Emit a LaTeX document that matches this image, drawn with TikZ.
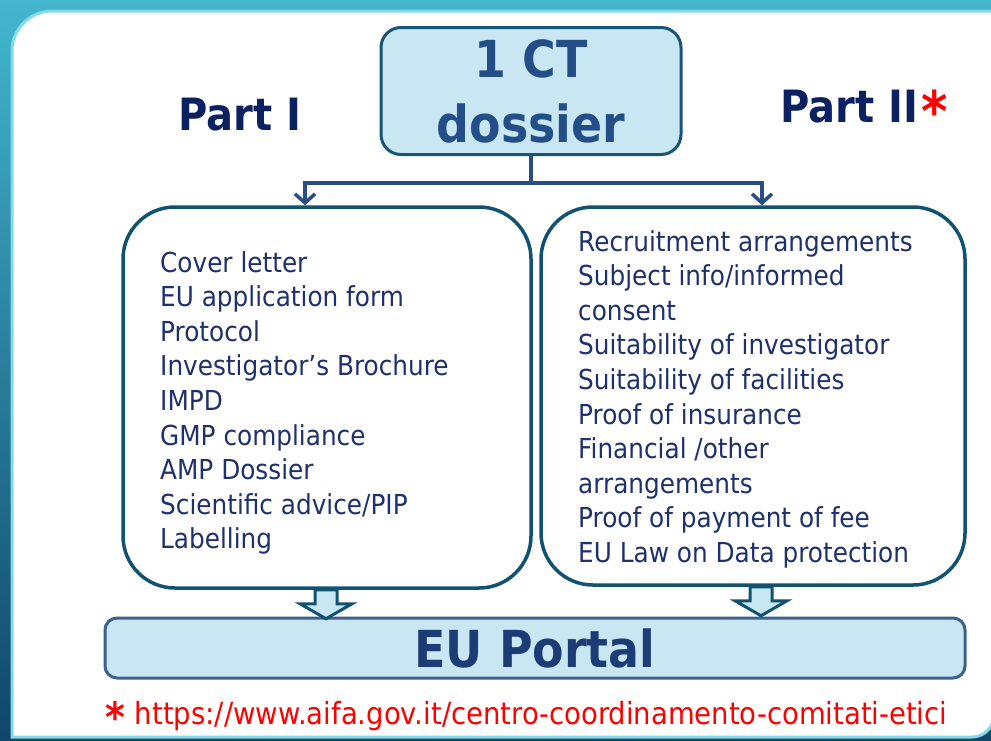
\documentclass[tikz,border=0pt]{standalone}
\usepackage{fontspec}
\setmainfont{DejaVu Sans}[FakeStretch=0.9]
\usetikzlibrary{arrows.meta,calc}
\definecolor{frametop}{RGB}{66,182,206}
\definecolor{framebot}{RGB}{16,70,106}
\definecolor{paneledge}{RGB}{132,218,230}
\definecolor{boxedge}{RGB}{16,82,112}
\definecolor{topedge}{RGB}{24,86,118}
\definecolor{portaledge}{RGB}{62,96,140}
\definecolor{lightfill}{RGB}{201,231,242}
\definecolor{conncol}{RGB}{40,78,130}
\definecolor{navy}{RGB}{12,34,96}
\definecolor{titleblue}{RGB}{35,78,135}
\definecolor{listblue}{RGB}{30,48,110}
\definecolor{portalblue}{RGB}{28,60,118}
\begin{document}
\begin{tikzpicture}[x=1pt,y=-1pt,
  topbox/.style={draw=topedge, fill=lightfill, line width=3pt, rounded corners=20pt, minimum width=300pt, minimum height=127pt, inner sep=0pt, text=titleblue, font=\fontsize{51}{65}\selectfont\bfseries, align=center},
  listbox/.style={draw=boxedge, fill=white, line width=3.5pt, rounded corners=52pt, inner sep=0pt},
  listtext/.style={text=listblue, font=\fontsize{27.5}{34.6}\selectfont, align=left, inner sep=0pt},
  parttext/.style={text=navy, font=\fontsize{44.5}{50}\selectfont\bfseries, inner sep=0pt},
  portalbox/.style={draw=portaledge, fill=lightfill, line width=3pt, rounded corners=12pt, minimum width=860pt, minimum height=60pt, inner sep=0pt, text=portalblue, font=\fontsize{51}{60}\selectfont\bfseries},
  conn/.style={draw=conncol, line width=3.5pt},
  harrowstyle/.style={draw=boxedge, fill=lightfill, line width=3pt, line join=miter},
  notetext/.style={text=red, font=\fontsize{30.5}{34}\selectfont, inner sep=0pt},
  hollowarrow/.pic={\path[harrowstyle] (-11,0) -- (-11,14) -- (-26,14) -- (0,29) -- (26,14) -- (11,14) -- (11,0) -- cycle;}
]
\useasboundingbox (0,0) rectangle (991,740);
\shade[top color=frametop, bottom color=framebot] (0,0) rectangle (991,740);
\path[fill=white, draw=paneledge, line width=3pt] (12,737) -- (12,51) arc[start angle=180, end angle=270, radius=40] -- (994,11) -- (994,715) arc[start angle=0, end angle=90, radius=22] -- cycle;

\node[parttext, anchor=base] (part1) at (240,130) {Part I};
\node[parttext, anchor=base west] (part2) at (780,122) {Part II\hspace{3pt}\textcolor{red}{\raisebox{-9pt}{\fontsize{56}{56}\selectfont *}}};

\node[topbox] (ct) at (531,91) {1 CT\\dossier};

\node[listbox, minimum width=408pt, minimum height=381pt] (p1) at (327,397.5) {};
\node[listbox, minimum width=424pt, minimum height=378pt] (p2) at (753,396) {};

\node[listtext, anchor=north west] (l1) at (160,251) {Cover letter\\EU application form\\Protocol\\Investigator’s Brochure\\IMPD\\GMP compliance\\AMP Dossier\\Scientific advice/PIP\\Labelling};
\node[listtext, anchor=north west] (l2) at (578,230) {Recruitment arrangements\\Subject info/informed\\consent\\Suitability of investigator\\Suitability of facilities\\Proof of insurance\\Financial /other\\arrangements\\Proof of payment of fee\\EU Law on Data protection};

\coordinate (j) at (531,183);
\draw[conn] (ct.south) -- (j);
\draw[conn, -{Straight Barb[length=9pt,width=20pt]}] (j) -| ([xshift=-22pt]p1.north);
\draw[conn, -{Straight Barb[length=9pt,width=20pt]}] (j) -| ([xshift=9pt]p2.north);

\node[portalbox] (portal) at (535,648) {EU Portal};

\pic at ([xshift=-1pt]p1.south) {hollowarrow};
\pic at ([xshift=8pt]p2.south) {hollowarrow};

\node[notetext, anchor=base west] (note) at (105,724) {\smash{\raisebox{-8pt}{\fontsize{42}{42}\selectfont\bfseries *}}\hspace{10pt}https://www.aifa.gov.it/centro-coordinamento-comitati-etici};
\end{tikzpicture}
\end{document}
